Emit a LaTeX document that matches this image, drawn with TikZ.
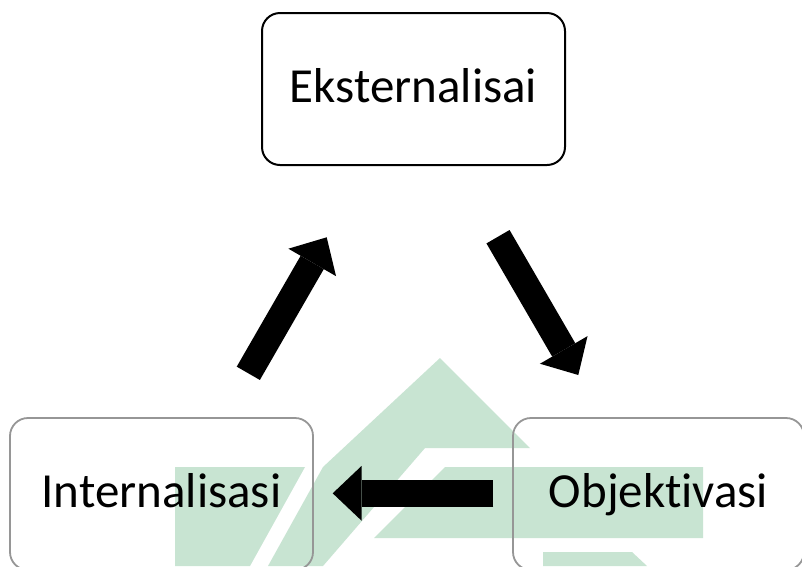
\documentclass[tikz,border=0pt]{standalone}
\usepackage{fontspec}
\setmainfont{Carlito}[RawFeature={-liga;-clig;-dlig}]
\usetikzlibrary{arrows.meta}
\definecolor{wm}{RGB}{200,228,210}
\definecolor{boxgray}{RGB}{150,150,150}
\begin{document}
\begin{tikzpicture}[x=1pt,y=-1pt,
  box/.style={draw, rounded corners=18pt, minimum width=303pt, minimum height=152pt,
    inner sep=0pt, font=\fontsize{49}{58}\selectfont, text height=26pt, text depth=0pt},
  topbox/.style={box, draw=black, line width=2pt},
  lowbox/.style={box, draw=boxgray, line width=1.8pt},
  blockarrow/.style={draw=black, line width=26.7pt,
    -{Triangle[length=29pt,width=55pt,line width=0pt]}},
  wmshape/.style={fill=wm, draw=none}]
\clip (0,0) rectangle (802,566);
\fill[white] (0,0) rectangle (802,566);
% watermark
\path[wmshape] (440,358) -- (530,448) -- (425,448) -- (323,566) -- (268,566) -- (323,467) -- cycle;
\path[wmshape] (445,467) -- (703,467) -- (703,538) -- (374,538) -- cycle;
\path[wmshape] (543,552) -- (632,552) -- (647,566) -- (543,566) -- cycle;
\path[wmshape] (175,467) -- (305,467) -- (250,566) -- (175,566) -- cycle;
% boxes
\node[topbox] (ext) at (413.5,89) {Eksternalisai};
\node[lowbox] (int) at (161.5,494) {Internalisasi};
\node[lowbox, minimum width=291pt] (obj) at (658.5,494) {Objektivasi};
% arrow ends
\coordinate (a1s) at (248.3,373.3);
\coordinate (a1e) at (326.7,237.3);
\coordinate (a2s) at (498,236.7);
\coordinate (a2e) at (578.3,375);
\coordinate (a3s) at (493.3,493.3);
\coordinate (a3e) at (332.7,493.3);
\draw[blockarrow] (a1s) -- (a1e);
\draw[blockarrow] (a2s) -- (a2e);
\draw[blockarrow] (a3s) -- (a3e);
\end{tikzpicture}
\end{document}
